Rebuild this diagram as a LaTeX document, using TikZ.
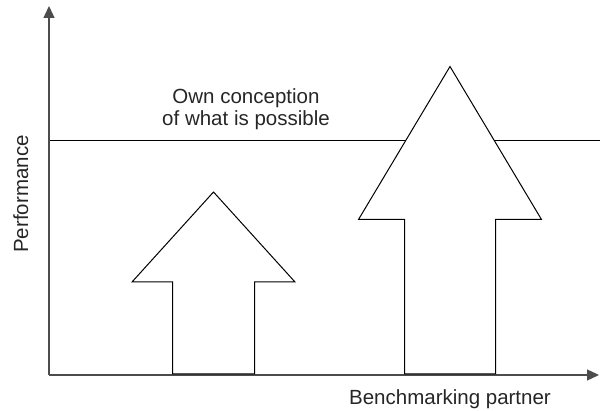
\documentclass[tikz,border=0pt]{standalone}
\usepackage{fontspec}
\setmainfont{Liberation Sans}
\usetikzlibrary{arrows.meta}
\begin{document}
\begin{tikzpicture}[x=1pt,y=-1pt,
  axis/.style={line width=1.3pt,draw=black!70,-{Triangle[length=12pt,width=11pt]}},
  bigarrow/.style={draw=black,line width=1pt,fill=white,line join=miter},
  lbl/.style={font=\fontsize{20.5}{22.5}\selectfont,text=black!85,inner sep=0pt}]
\useasboundingbox (0,0) rectangle (600,411);
\coordinate (O) at (49,375);
\coordinate (ytop) at (49,6);
\coordinate (xend) at (599,375);
\draw[line width=1pt] (49,140.5) -- (600,140.5);
\draw[axis] (O) -- (ytop);
\draw[axis] (O) -- (xend);
% small arrow
\draw[bigarrow] (172.5,374) -- (172.5,282) -- (132,282) -- (213.5,192) -- (295,282) -- (254.5,282) -- (254.5,374) -- cycle;
% big arrow
\draw[bigarrow] (404.5,374) -- (404.5,219.5) -- (358.5,219.5) -- (450,66.5) -- (541.5,219.5) -- (495.5,219.5) -- (495.5,374) -- cycle;
\node[lbl,align=center] (own) at (246,109) {Own conception\\of what is possible};
\node[lbl,rotate=90,anchor=base] (perf) at (28,194) {Performance};
\node[lbl,anchor=base] (bench) at (450,405) {Benchmarking partner};
\end{tikzpicture}
\end{document}
